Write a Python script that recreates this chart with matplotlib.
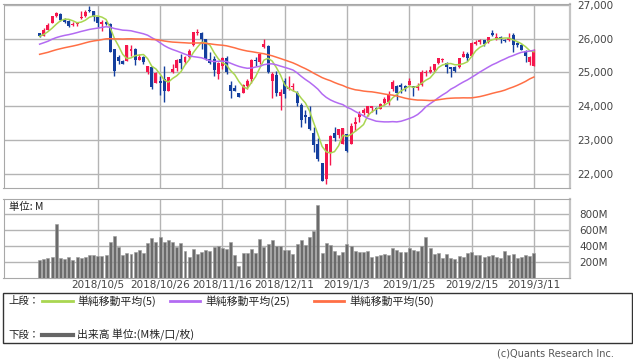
import numpy as np
import pandas as pd
import matplotlib
matplotlib.use("Agg")
import matplotlib.pyplot as plt
from matplotlib.patches import Rectangle
from matplotlib.lines import Line2D

plt.rcParams['font.family'] = ['DejaVu Sans', 'Noto Sans CJK JP']
JP = ['Noto Sans CJK JP', 'DejaVu Sans']

days_2018 = ["9/17", "9/18", "9/19", "9/20", "9/21", "9/24", "9/25", "9/26", "9/27", "9/28",
             "10/1", "10/2", "10/3", "10/4", "10/5", "10/8", "10/9", "10/10", "10/11", "10/12",
             "10/15", "10/16", "10/17", "10/18", "10/19", "10/22", "10/23", "10/24", "10/25", "10/26",
             "10/29", "10/30", "10/31", "11/1", "11/2", "11/5", "11/6", "11/7", "11/8", "11/9",
             "11/12", "11/13", "11/14", "11/15", "11/16", "11/19", "11/20", "11/21", "11/23", "11/26",
             "11/27", "11/28", "11/29", "11/30", "12/3", "12/4", "12/6", "12/7", "12/10", "12/11",
             "12/12", "12/13", "12/14", "12/17", "12/18", "12/19", "12/20", "12/21", "12/24", "12/26",
             "12/27", "12/28", "12/31"]
days_2019 = ["1/2", "1/3", "1/4", "1/7", "1/8", "1/9", "1/10", "1/11", "1/14", "1/15",
             "1/16", "1/17", "1/18", "1/22", "1/23", "1/24", "1/25", "1/28", "1/29", "1/30",
             "1/31", "2/1", "2/4", "2/5", "2/6", "2/7", "2/8", "2/11", "2/12", "2/13",
             "2/14", "2/15", "2/19", "2/20", "2/21", "2/22", "2/25", "2/26", "2/27", "2/28",
             "3/1", "3/4", "3/5", "3/6", "3/7", "3/8", "3/11"]
dates = ["2018/" + d for d in days_2018] + ["2019/" + d for d in days_2019]

opens = [26150, 26080, 26250, 26460, 26680, 26720, 26590, 26520, 26400, 26420,
         26600, 26660, 26840, 26800, 26630, 26420, 26480, 26425, 25690, 25460,
         25330, 25330, 25640, 25700, 25380, 25460, 25000, 25170, 24700, 24750,
         24800, 24440, 25000, 25120, 25400, 25300, 25460, 25800, 26170, 26150,
         25980, 25400, 25400, 24950, 25200, 25420, 24640, 24530, 24380, 24400,
         24600, 24800, 25380, 25300, 25760, 25780, 24740, 24920, 24300, 24740,
         24500, 24560, 24400, 24050, 23740, 23690, 23220, 22880, 22320, 21860,
         22630, 23210, 23150, 22900, 23180, 22900, 23470, 23680, 23800, 23790,
         23940, 23960, 23920, 24100, 24130, 24500, 24600, 24620, 24590, 24640,
         24600, 24550, 24620, 24970, 25020, 25060, 25280, 25370, 25270, 25150,
         25150, 25150, 25470, 25530, 25500, 25830, 25890, 25950, 25900, 26150,
         26030, 26040, 25960, 25960, 26110, 25870, 25800, 25640, 25300, 25200]
highs = [26170, 26300, 26460, 26680, 26770, 26740, 26610, 26560, 26500, 26470,
         26800, 26850, 26950, 26820, 26660, 26540, 26520, 26460, 25700, 25520,
         25370, 25820, 25800, 25720, 25530, 25500, 25200, 25200, 25000, 24900,
         25200, 24880, 25250, 25400, 25540, 25500, 25680, 26200, 26280, 26200,
         26000, 25600, 25500, 25300, 25450, 25500, 24750, 24640, 24400, 24660,
         24800, 25400, 25450, 25560, 25980, 25800, 25000, 25050, 24500, 24840,
         24900, 24700, 24450, 24100, 23880, 24000, 23380, 23070, 22340, 22880,
         23140, 23380, 23340, 23370, 23180, 23520, 23690, 23860, 23950, 24010,
         24010, 23990, 24100, 24290, 24440, 24780, 24630, 24700, 24640, 24830,
         24610, 24680, 25060, 25080, 25180, 25250, 25440, 25440, 25320, 25170,
         25180, 25440, 25630, 25600, 25890, 25960, 26000, 25970, 26040, 26241,
         26150, 26070, 26000, 26150, 26160, 25890, 25830, 25660, 25490, 25690]
lows = [26040, 26070, 26240, 26450, 26650, 26530, 26450, 26340, 26380, 26380,
        26580, 26640, 26780, 26530, 26330, 26225, 26390, 25600, 24900, 25250,
        25240, 25330, 25500, 25230, 25360, 25250, 24960, 24520, 24690, 24330,
        24120, 24440, 24980, 25050, 25100, 25250, 25400, 25770, 26100, 25700,
        25380, 25250, 24900, 24800, 25100, 24950, 24250, 24440, 24270, 24390,
        24500, 24700, 25200, 25250, 25720, 24980, 24242, 24300, 23880, 24250,
        24480, 24450, 24000, 23400, 23500, 23290, 22640, 22400, 21790, 21710,
        22267, 22980, 23060, 22880, 22640, 22890, 23280, 23540, 23730, 23710,
        23840, 23760, 23910, 24040, 24040, 24440, 24200, 24400, 24450, 24620,
        24300, 24470, 24610, 24900, 24980, 25000, 25250, 25320, 24990, 24880,
        25000, 25140, 25460, 25330, 25490, 25800, 25840, 25770, 25880, 26070,
        25960, 25880, 25900, 25920, 25600, 25740, 25650, 25320, 25210, 25180]
closes = [26062, 26247, 26406, 26657, 26744, 26562, 26492, 26385, 26440, 26458,
          26651, 26774, 26828, 26627, 26447, 26487, 26431, 25599, 25053, 25340,
          25251, 25798, 25706, 25379, 25444, 25317, 25191, 24583, 24985, 24688,
          24443, 24875, 25116, 25381, 25271, 25462, 25635, 26180, 26191, 25989,
          25387, 25286, 25080, 25289, 25413, 25017, 24466, 24465, 24286, 24640,
          24749, 25366, 25339, 25538, 25826, 25027, 24948, 24389, 24423, 24370,
          24527, 24597, 24100, 23593, 23676, 23324, 22860, 22445, 21792, 22878,
          23139, 23062, 23327, 23346, 22686, 23433, 23531, 23787, 23879, 24002,
          23996, 23910, 24066, 24207, 24370, 24706, 24404, 24576, 24553, 24737,
          24528, 24580, 25015, 25000, 25064, 25239, 25412, 25390, 25170, 25106,
          25053, 25426, 25543, 25439, 25883, 25891, 25954, 25851, 26032, 26092,
          26058, 25985, 25916, 26026, 25820, 25807, 25673, 25473, 25450, 25651]
# closes before the first visible day, only used to start the moving averages
prior_closes = [24776, 24920, 24700, 24925, 25019, 25064, 25120, 25200, 25065, 25058,
                25044, 25241, 25415, 25527, 25451, 25307, 25415,
                25333, 25327, 25463, 25502, 25629, 25583, 25509, 25313, 25188, 25300,
                25162, 25559, 25669, 25758, 25822, 25733, 25656, 25790, 26050, 26064,
                26125, 25987, 25965,
                25952, 25975, 25996, 25917, 25857, 25971, 25999, 26145, 26155]
volume = [225, 238, 254, 263, 671, 246, 238, 263, 225, 263,
          246, 263, 284, 284, 271, 280, 288, 450, 521, 392,
          288, 309, 296, 325, 350, 313, 434, 496, 450, 509,
          450, 475, 450, 388, 434, 338, 263, 363, 296, 325,
          350, 338, 388, 400, 371, 367, 446, 288, 150, 309,
          309, 363, 309, 488, 392, 425, 475, 400, 400, 350,
          350, 296, 421, 475, 413, 513, 588, 913, 313, 438,
          413, 338, 288, 325, 425, 396, 338, 325, 325, 338,
          267, 275, 288, 300, 288, 375, 350, 325, 325, 375,
          350, 338, 400, 513, 375, 300, 313, 250, 300, 254,
          238, 275, 263, 313, 325, 288, 288, 263, 275, 288,
          263, 254, 338, 288, 300, 250, 263, 288, 280, 313]
tick_labels = ["2018/10/5", "2018/10/26", "2018/11/16", "2018/12/11",
               "2019/1/3", "2019/1/25", "2019/2/15", "2019/3/11"]
ma_periods = [5, 25, 50]
ma_colors = ['#a9d651', '#b36bf2', '#ff6f45']

RED = '#f5174d'
BLUE = '#143f9e'
GRID = '#b4b4b4'

W, H = 633, 359
fig = plt.figure(figsize=(W / 100, H / 100), dpi=100)


def box(x0, y0, x1, y1):
    return [x0 / W, 1 - y1 / H, (x1 - x0) / W, (y1 - y0) / H]


def fx(x):
    return x / W


def fy(y):
    return 1 - y / H


ax = fig.add_axes(box(3.5, 4, 570, 188))
axv = fig.add_axes(box(3.5, 199, 570, 278))

x = np.arange(len(closes))
o = np.array(opens, dtype=float)
c = np.array(closes, dtype=float)
col = np.where(c >= o, RED, BLUE)
tick_pos = [dates.index(t) for t in tick_labels]

# candles
ax.vlines(x, lows, highs, color=col, lw=1, zorder=3)
ax.bar(x, np.maximum(np.abs(c - o), 20), bottom=np.minimum(o, c), width=0.72,
       color=col, lw=0, zorder=3)

# moving averages
allc = pd.Series(prior_closes + closes, dtype=float)
for n, mc in zip(ma_periods, ma_colors):
    ma = allc.rolling(n).mean().values[len(prior_closes):]
    ax.plot(x, ma, color=mc, lw=1.1, zorder=4)

ax.set_xlim(-8.7, 127.7)
ax.set_ylim(21590, 27020)
ax.set_xticks(tick_pos)
ax.set_xticklabels([])
ax.set_yticks(range(22000, 27001, 1000))
ax.set_yticklabels([f"{v:,}" for v in range(22000, 27001, 1000)])
ax.yaxis.tick_right()
ax.tick_params(length=0, labelsize=7.5, colors='#444444', pad=5)
ax.grid(color=GRID, lw=1)
ax.set_axisbelow(True)

# volume
axv.bar(x, volume, width=0.72, color='#6b6b6b', edgecolor='#9c9c9c', lw=0.4, zorder=3)
axv.set_xlim(-8.7, 127.7)
axv.set_ylim(0, 985)
axv.set_yticks([200, 400, 600, 800])
axv.set_yticklabels(["200M", "400M", "600M", "800M"])
axv.yaxis.tick_right()
axv.set_xticks(tick_pos)
axv.set_xticklabels(tick_labels)
axv.tick_params(axis='y', length=0, labelsize=7.5, colors='#444444', pad=7)
axv.tick_params(axis='x', length=0, labelsize=7.5, colors='#444444', pad=1.5)
axv.grid(color=GRID, lw=1)
axv.set_axisbelow(True)
axv.text(0.009, 0.9, "単位: M", transform=axv.transAxes, fontsize=7.5,
         family=JP, va='center', color='#222222')

for a in (ax, axv):
    for s in a.spines.values():
        s.set_color('#a8a8a8')
    a.spines['right'].set_color('#c4c4c4')
    a.spines['right'].set_linewidth(1.6)

# legend box
fig.add_artist(Rectangle((fx(3), fy(343)), fx(629), 50 / H, transform=fig.transFigure,
                         fill=False, ec='#333333', lw=1))
fig.text(fx(8), fy(301), "上段：", fontsize=7.5, family=JP, va='center', color='#222222')
fig.text(fx(8), fy(335), "下段：", fontsize=7.5, family=JP, va='center', color='#222222')
leg_x = [(42, 73, 77), (170, 200, 205), (314, 344, 349)]
for (x0, x1, tx), n, mc in zip(leg_x, ma_periods, ma_colors):
    fig.add_artist(Line2D([fx(x0), fx(x1)], [fy(301), fy(301)], color=mc, lw=2,
                          transform=fig.transFigure))
    fig.text(fx(tx), fy(301), f"単純移動平均({n})", fontsize=7.8, family=JP,
             va='center', color='#222222')
fig.add_artist(Line2D([fx(42), fx(73)], [fy(335), fy(335)], color='#666666', lw=3,
                      transform=fig.transFigure))
fig.text(fx(77), fy(335), "出来高 単位:(M株/口/枚)", fontsize=7.8, family=JP,
         va='center', color='#222222')

fig.text(fx(614), fy(354), "(c)Quants Research Inc.", fontsize=7, ha='right',
         va='center', color='#555555')

fig.savefig("out.png", dpi=100)
